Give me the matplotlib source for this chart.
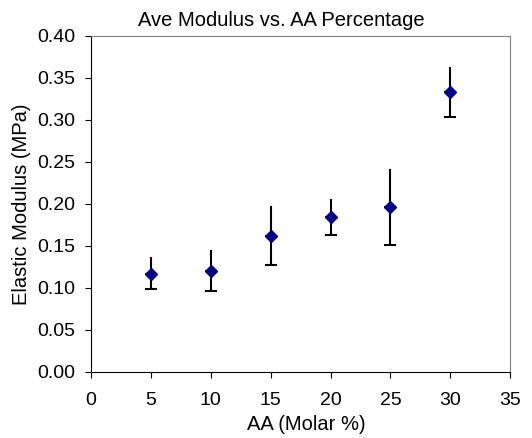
import numpy as np
import matplotlib
matplotlib.use('Agg')
import matplotlib.pyplot as plt

plt.rcParams['font.family'] = ['Liberation Sans', 'DejaVu Sans']

# AA molar percentage and average modulus (MPa)
aa = [5, 10, 15, 20, 25, 30]
modulus = [0.117, 0.120, 0.162, 0.184, 0.196, 0.333]
# ends of the error bars
err_top = [0.137, 0.145, 0.197, 0.206, 0.242, 0.363]
err_bottom = [0.099, 0.096, 0.127, 0.163, 0.151, 0.304]

x = np.array(aa)
y = np.array(modulus)
up = np.array(err_top) - y
down = y - np.array(err_bottom)

fig = plt.figure(figsize=(5.32, 4.38), dpi=100)
ax = fig.add_axes([0.171, 0.151, 0.788, 0.767])

# lower bar with cap, upper bar without (Excel-style)
ax.errorbar(x, y, yerr=[down, np.zeros_like(y)], fmt='none', ecolor='black',
            elinewidth=1.5, capsize=4.5, capthick=1.5, zorder=2)
ax.errorbar(x, y, yerr=[np.zeros_like(y), up], fmt='none', ecolor='black',
            elinewidth=1.5, capsize=0, zorder=2)
ax.plot(x, y, linestyle='none', marker='D', markersize=5.8, color='#000080', zorder=3)

ax.set_xlim(0, 35)
ax.set_ylim(0, 0.40)
ax.set_xticks(np.arange(0, 36, 5))
ax.set_yticks(np.arange(0, 0.401, 0.05))
ax.set_yticklabels(['%.2f' % v for v in np.arange(0, 0.401, 0.05)])

ax.spines['top'].set_color('#808080')
ax.spines['right'].set_color('#808080')
ax.spines['left'].set_color('black')
ax.spines['bottom'].set_color('black')
ax.tick_params(direction='out', length=4, width=0.8, labelsize=14)
ax.tick_params(axis='y', pad=7)
ax.tick_params(axis='x', pad=10.5)

ax.set_title('Ave Modulus vs. AA Percentage', fontsize=14.5, pad=7, x=0.455)
ax.set_xlabel('AA (Molar %)', fontsize=14.5)
ax.set_ylabel('Elastic Modulus (MPa)', fontsize=14.5)
ax.xaxis.set_label_coords(0.513, -0.128)
ax.yaxis.set_label_coords(-0.142, 0.5)

fig.savefig('out.png', dpi=100)
